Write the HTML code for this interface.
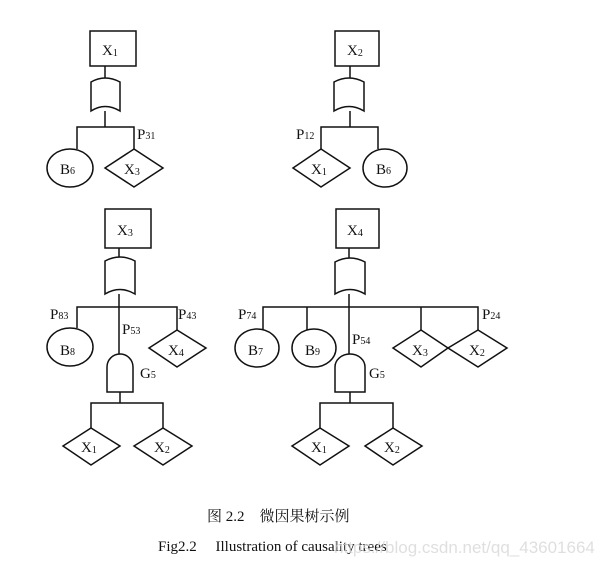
<!DOCTYPE html>
<html><head><meta charset="utf-8"><style>
html,body{margin:0;padding:0;background:#fff;}
svg{display:block;}
text{font-family:"Liberation Serif","Noto Serif CJK SC",serif;fill:#111;}
.s{font-size:10px;}
</style></head><body>
<svg width="603" height="568" viewBox="0 0 603 568" xmlns="http://www.w3.org/2000/svg">
<g fill="none" stroke="#111" stroke-width="1.5">
<!-- Tree 1 -->
<rect x="90" y="31" width="46" height="35"/>
<line x1="105" y1="66" x2="105" y2="78"/>
<path d="M91,82 Q105,74 120,82 L120,111 Q105,102 91,111 Z"/>
<line x1="105" y1="111" x2="105" y2="127"/>
<polyline points="77,149 77,127 134,127 134,149"/>
<ellipse cx="70" cy="168" rx="23" ry="19"/>
<polygon points="134,149 163,168 134,187 105,168"/>
<!-- Tree 2 -->
<rect x="335" y="31" width="44" height="35"/>
<line x1="350" y1="66" x2="350" y2="78"/>
<path d="M334,82 Q349,74 364,82 L364,111 Q349,102 334,111 Z"/>
<line x1="350" y1="111" x2="350" y2="127"/>
<polyline points="321,149 321,127 378,127 378,149"/>
<polygon points="321,149 350,168 321,187 293,168"/>
<ellipse cx="385" cy="168" rx="22" ry="19"/>
<!-- Tree 3 -->
<rect x="105" y="209" width="46" height="39"/>
<line x1="119" y1="248" x2="119" y2="257"/>
<path d="M105,261 Q120,253 135,261 L135,294 Q120,285 105,294 Z"/>
<line x1="119" y1="294" x2="119" y2="354"/>
<polyline points="77,328 77,307 177,307 177,330"/>
<ellipse cx="70" cy="347" rx="23" ry="19"/>
<polygon points="177,330 206,348 177,367 149,348"/>
<path d="M107,392 L107,367 A13,13 0 0 1 133,367 L133,392 Z"/>
<line x1="120" y1="392" x2="120" y2="403"/>
<polyline points="91,428 91,403 163,403 163,428"/>
<polygon points="91,428 120,446 91,465 63,446"/>
<polygon points="163,428 192,446 163,465 134,446"/>
<!-- Tree 4 -->
<rect x="336" y="209" width="43" height="39"/>
<line x1="349" y1="248" x2="349" y2="258"/>
<path d="M335,262 Q350,254 365,262 L365,294 Q350,285 335,294 Z"/>
<line x1="349" y1="294" x2="349" y2="354"/>
<polyline points="263,330 263,307 478,307 478,330"/>
<line x1="307" y1="307" x2="307" y2="330"/>
<line x1="421" y1="307" x2="421" y2="330"/>
<ellipse cx="257" cy="348" rx="22" ry="19"/>
<ellipse cx="314" cy="348" rx="22" ry="19"/>
<polygon points="421,330 448,348 421,367 393,348"/>
<polygon points="478,330 507,348 478,367 448,348"/>
<path d="M335,392 L335,367 A15,13 0 0 1 365,367 L365,392 Z"/>
<line x1="350" y1="392" x2="350" y2="403"/>
<polyline points="320,428 320,403 393,403 393,428"/>
<polygon points="320,428 349,446 320,465 292,446"/>
<polygon points="393,428 422,446 393,465 365,446"/>
</g>
<g font-size="15">
<text x="102" y="55">X<tspan class="s" dy="1">1</tspan></text>
<text x="347" y="55">X<tspan class="s" dy="1">2</tspan></text>
<text x="60" y="174">B<tspan class="s" dy="0">6</tspan></text>
<text x="124" y="174">X<tspan class="s" dy="1">3</tspan></text>
<text x="137" y="139">P<tspan class="s" dy="0">31</tspan></text>
<text x="296" y="139">P<tspan class="s" dy="0">12</tspan></text>
<text x="311" y="174">X<tspan class="s" dy="1">1</tspan></text>
<text x="376" y="174">B<tspan class="s" dy="0">6</tspan></text>

<text x="117" y="235">X<tspan class="s" dy="1">3</tspan></text>
<text x="50" y="319">P<tspan class="s" dy="0">83</tspan></text>
<text x="122" y="334">P<tspan class="s" dy="0">53</tspan></text>
<text x="178" y="319">P<tspan class="s" dy="0">43</tspan></text>
<text x="60" y="355">B<tspan class="s" dy="0">8</tspan></text>
<text x="168" y="355">X<tspan class="s" dy="1">4</tspan></text>
<text x="140" y="378">G<tspan class="s" dy="0">5</tspan></text>
<text x="81" y="452">X<tspan class="s" dy="1">1</tspan></text>
<text x="154" y="452">X<tspan class="s" dy="1">2</tspan></text>

<text x="347" y="235">X<tspan class="s" dy="1">4</tspan></text>
<text x="238" y="319">P<tspan class="s" dy="0">74</tspan></text>
<text x="352" y="344">P<tspan class="s" dy="0">54</tspan></text>
<text x="482" y="319">P<tspan class="s" dy="0">24</tspan></text>
<text x="248" y="355">B<tspan class="s" dy="0">7</tspan></text>
<text x="305" y="355">B<tspan class="s" dy="0">9</tspan></text>
<text x="412" y="355">X<tspan class="s" dy="1">3</tspan></text>
<text x="469" y="355">X<tspan class="s" dy="1">2</tspan></text>
<text x="369" y="378">G<tspan class="s" dy="0">5</tspan></text>
<text x="311" y="452">X<tspan class="s" dy="1">1</tspan></text>
<text x="384" y="452">X<tspan class="s" dy="1">2</tspan></text>
</g>
<text x="207" y="521" font-size="15">图 2.2　微因果树示例</text>
<text x="158" y="551" font-size="15">Fig2.2　 Illustration of causality trees</text>
<text x="334" y="553" font-size="17" style="font-family:'Liberation Sans',sans-serif;fill:#d8d8d8;opacity:0.8">https://blog.csdn.net/qq_43601664</text>
</svg>
</body></html>
